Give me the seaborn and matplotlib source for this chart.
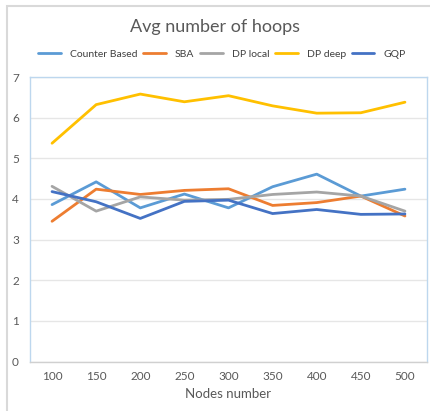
import matplotlib
matplotlib.use("Agg")
import matplotlib.pyplot as plt
from matplotlib.patches import Rectangle
import seaborn as sns
import pandas as pd
import numpy as np

nodes = [100, 150, 200, 250, 300, 350, 400, 450, 500]
counter_based = [3.86, 4.42, 3.78, 4.12, 3.78, 4.30, 4.61, 4.07, 4.24]
sba = [3.45, 4.24, 4.11, 4.21, 4.25, 3.84, 3.91, 4.07, 3.58]
dp_local = [4.31, 3.70, 4.05, 3.97, 3.99, 4.11, 4.17, 4.07, 3.70]
dp_deep = [5.37, 6.32, 6.58, 6.39, 6.54, 6.29, 6.11, 6.12, 6.38]
gqp = [4.18, 3.93, 3.52, 3.94, 3.97, 3.64, 3.74, 3.62, 3.63]

series_names = ["Counter Based", "SBA", "DP local", "DP deep", "GQP"]
series_values = [counter_based, sba, dp_local, dp_deep, gqp]
colors = ["#5B9BD5", "#ED7D31", "#A5A5A5", "#FFC000", "#4472C4"]

rows = []
for name, vals in zip(series_names, series_values):
    for i, (n, v) in enumerate(zip(nodes, vals)):
        rows.append({"pos": i, "Nodes": n, "Series": name, "Value": v})
df = pd.DataFrame(rows)

sns.set_style("white")
plt.rcParams["font.family"] = ["Lato", "DejaVu Sans"]

fig = plt.figure(figsize=(4.31, 4.11), dpi=100)
ax = fig.add_axes([30 / 431, 1 - 361.5 / 411, 397 / 431, 284.5 / 411])

# outer chart border
fig.patches.append(Rectangle((7 / 431, -0.1), 1.2, 1 - 6 / 411 + 0.1,
                             transform=fig.transFigure, fill=False,
                             edgecolor="#D9D9D9", linewidth=1.5))

sns.lineplot(data=df, x="pos", y="Value", hue="Series", hue_order=series_names,
             palette=colors, linewidth=2.0, ax=ax, legend=False)

ax.set_xlim(-0.5, len(nodes) - 0.5)
ax.set_ylim(0, 7)
ax.set_yticks(range(0, 8))
ax.yaxis.grid(True, color="#E6E6E6", linewidth=1.0)
ax.set_axisbelow(True)

ax.set_xticks(range(len(nodes)))
ax.set_xticklabels([str(n) for n in nodes])
ax.set_xticks(np.arange(-0.5, len(nodes), 1.0), minor=True)
ax.tick_params(axis="x", which="major", length=0, pad=7, labelsize=8.5, labelcolor="#595959")
ax.tick_params(axis="x", which="minor", length=4, color="#D0D0D0", width=0.8)
ax.tick_params(axis="y", length=0, pad=8, labelsize=8.5, labelcolor="#595959")

for side in ["left", "right", "top"]:
    ax.spines[side].set_color("#BDD7EE")
    ax.spines[side].set_linewidth(1.0)
ax.spines["bottom"].set_color("#D0D0D0")
ax.spines["bottom"].set_linewidth(1.0)

ax.set_xlabel("Nodes number", fontsize=9.5, color="#595959", labelpad=4)
ax.set_ylabel("")

fig.text(0.5, 1 - 27 / 411, "Avg number of hoops", ha="center", va="center",
         fontsize=13, color="#595959")

handles = [plt.Line2D([], [], color=c, linewidth=2.0) for c in colors]
fig.legend(handles, series_names, loc="center", bbox_to_anchor=(0.515, 1 - 54 / 411),
           ncol=5, frameon=False, fontsize=7.5, handlelength=2.2, columnspacing=0.5,
           handletextpad=0.9, labelcolor="#404040", borderpad=0, borderaxespad=0)

fig.savefig("out.png", dpi=100)
